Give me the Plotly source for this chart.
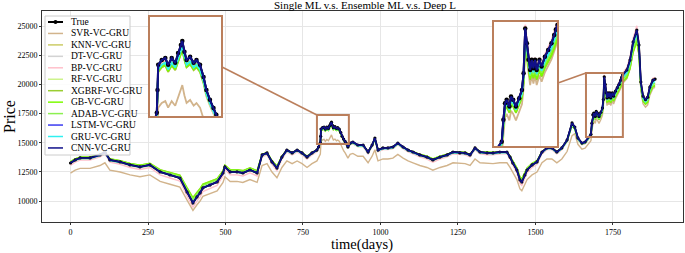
import numpy as np
import plotly.graph_objects as go

# ---------------- data ----------------
DAYS = [0, 15, 31, 63, 95, 111, 127, 160, 192, 224, 256, 289, 321, 353, 376, 395, 408, 418, 427, 450,
        473, 492, 498, 515, 537, 556, 579, 602, 618, 634, 650, 666, 682, 698, 715, 731, 747, 763, 779, 795,
        800, 806, 807, 808, 813, 818, 822, 827, 832, 836, 840, 842, 845, 848, 853, 858, 862, 867, 872, 876,
        881, 886, 890, 895, 902, 911, 927, 944, 960, 973, 982, 992, 1008, 1024, 1040, 1056, 1073, 1089, 1105, 1127,
        1150, 1169, 1192, 1215, 1234, 1256, 1273, 1289, 1305, 1321, 1344, 1363, 1385, 1408, 1418, 1427, 1440, 1450, 1456, 1466,
        1473, 1489, 1505, 1521, 1537, 1553, 1569, 1585, 1602, 1618, 1627, 1637, 1650, 1660, 1679, 1682, 1685, 1688, 1693, 1696,
        1700, 1705, 1711, 1716, 1719, 1722, 1725, 1728, 1731, 1734, 1737, 1740, 1743, 1748, 1752, 1758, 1764, 1770, 1775, 1778,
        1781, 1795, 1805, 1815, 1827, 1834, 1840, 1847, 1855, 1862, 1869, 1879, 1886]

TRUE_PRICE = [13260, 13520, 13690, 13690, 13950, 14200, 13520, 13350, 13090, 12920, 13090, 12490, 12230, 11970, 10770, 9830, 10350, 10690, 11120, 11370,
              11630, 12400, 12920, 12490, 12490, 12400, 12660, 12400, 13950, 14120, 13350, 12830, 13770, 14370, 14120, 14370, 14120, 13770, 14120, 14370,
              14630, 14990, 15550, 16170, 16290, 16340, 16170, 16340, 16220, 16460, 16660, 16760, 16490, 16290, 16370, 16220, 16290, 16170, 15870, 15550,
              15310, 15110, 14940, 14630, 14970, 15060, 14800, 14800, 14200, 14800, 15400, 14370, 14550, 14550, 14630, 14970, 14630, 14370, 14200, 13950,
              13770, 13520, 13770, 13950, 14200, 14120, 14120, 13950, 14550, 14200, 14120, 14120, 14200, 14200, 13770, 13260, 12660, 11800, 11630, 12230,
              12660, 13090, 13350, 14200, 14550, 14550, 14200, 14550, 15230, 16690, 16340, 15400, 14970, 15060, 15720, 16670, 17390, 17540, 17250, 17680,
              17540, 17250, 17610, 17970, 18700, 20650, 20000, 19280, 18840, 19280, 18910, 19280, 18840, 19280, 18990, 19420, 19710, 20000, 20360, 20600,
              20800, 21230, 22090, 23630, 24660, 23370, 20200, 19000, 18700, 18900, 19770, 20370, 20450]

MODEL_NAMES = ["SVR-VC-GRU", "KNN-VC-GRU", "DT-VC-GRU", "BP-VC-GRU", "RF-VC-GRU", "XGBRF-VC-GRU",
               "GB-VC-GRU", "ADAB-VC-GRU", "LSTM-VC-GRU", "GRU-VC-GRU", "CNN-VC-GRU"]
# relative level of each model's prediction vs. the true price (before / after day 1620)
MODEL_RATIO_EARLY = [0.935, 0.992, 1.000, 0.990, 1.000, 1.000, 1.000, 1.000, 1.000, 0.995, 1.000]
MODEL_RATIO_LATE = [0.965, 0.992, 1.000, 0.990, 1.000, 1.000, 1.000, 1.000, 1.000, 0.995, 1.000]
# how strongly each model's prediction is pulled towards a mid price level
MODEL_PULL = [0.0, 0.03, 0.0, -0.06, 0.07, 0.10, 0.09, 0.06, 0.01, 0.02, 0.0]
MID_LEVEL = 14500

X_TICKS = [0, 250, 500, 750, 1000, 1250, 1500, 1750]
Y_TICKS = [10000, 12500, 15000, 17500, 20000, 22500, 25000]

# ---------------- styles ----------------
MODEL_COLORS = ["#d2b48c", "#cccc66", "#d3d3d3", "#ffc0cb", "#cdf38c", "#9acd32",
                "#7cfc00", "#8cf050", "#3b3bf0", "#30f0f0", "#10108a"]
BORDER = "#bb7f5c"
FONT = "Liberation Serif"

W, H = 685, 253
PL, PR, PT, PB = 42, 683, 11, 222
XMIN, XMAX = -92, 1976
YMIN, YMAX = 8200, 26290

INSETS = [
    dict(px=(149, 222), py=(16, 117), xr=(795, 898), yr=(14887, 17373), link=(222, 67)),
    dict(px=(493, 558), py=(21, 147), xr=(1663, 1782), yr=(15487, 20972), link=(558, 83)),
]


def pxx(px):
    return (px - PL) / (PR - PL)


def pyy(py):
    return (PB - py) / (PB - PT)


def dxx(d):
    return (d - XMIN) / (XMAX - XMIN)


def dyy(v):
    return (v - YMIN) / (YMAX - YMIN)


days = np.array(DAYS, dtype=float)
true = np.array(TRUE_PRICE, dtype=float)
preds = []
for i, name in enumerate(MODEL_NAMES):
    ratio = np.where(days < 1620, MODEL_RATIO_EARLY[i], MODEL_RATIO_LATE[i])
    preds.append(true * ratio + MODEL_PULL[i] * (MID_LEVEL - true))

fig = go.Figure()

# (xaxis, yaxis, model line width, true line width, marker size)
axes_sets = [("x", "y", 1.4, 1.8, 3.2)]
for k in range(len(INSETS)):
    axes_sets.append((f"x{k + 2}", f"y{k + 2}", 1.8, 2.0, 4.5))

for xa, ya, lw, tlw, ms in axes_sets:
    for i, name in enumerate(MODEL_NAMES[:-1]):
        fig.add_trace(go.Scatter(x=days, y=preds[i], mode="lines", name=name,
                                 line=dict(color=MODEL_COLORS[i], width=lw),
                                 xaxis=xa, yaxis=ya, showlegend=False, hoverinfo="skip"))
    fig.add_trace(go.Scatter(x=days, y=true, mode="lines+markers", name="True",
                             line=dict(color="black", width=tlw),
                             marker=dict(color="black", size=ms),
                             xaxis=xa, yaxis=ya, showlegend=False, hoverinfo="skip"))
    fig.add_trace(go.Scatter(x=days, y=preds[-1], mode="lines", name=MODEL_NAMES[-1],
                             line=dict(color=MODEL_COLORS[-1], width=lw + 0.2),
                             xaxis=xa, yaxis=ya, showlegend=False, hoverinfo="skip"))

axis_common = dict(showline=True, linecolor="#333333", linewidth=1, mirror=True,
                   zeroline=False, tickfont=dict(size=8, family=FONT, color="black"),
                   ticks="outside", ticklen=2, tickcolor="#333333", automargin=False,
                   showgrid=True, gridcolor="#e6e6e6", gridwidth=1, tickformat="d")

layout = dict(
    width=W, height=H,
    margin=dict(l=PL, r=W - PR, t=PT, b=H - PB, autoexpand=False),
    plot_bgcolor="white", paper_bgcolor="white",
    font=dict(family=FONT, color="black"),
    title=dict(text="Single ML v.s. Ensemble ML v.s. Deep L", x=365 / W, xref="container",
               xanchor="center", y=1 - 5 / H, yref="container", yanchor="middle",
               font=dict(size=11, family=FONT)),
    xaxis=dict(domain=[0, 1], range=[XMIN, XMAX], tickvals=X_TICKS, anchor="y", **axis_common),
    yaxis=dict(domain=[0, 1], range=[YMIN, YMAX], tickvals=Y_TICKS, anchor="x", **axis_common),
    showlegend=False,
)

shapes = []
annotations = [
    dict(text="time(days)", xref="paper", yref="paper", x=pxx(362), y=pyy(244.5),
         xanchor="center", yanchor="middle", showarrow=False,
         font=dict(size=14.5, family=FONT, color="black")),
    dict(text="Price", xref="paper", yref="paper", x=pxx(9), y=pyy(117), textangle=-90,
         xanchor="center", yanchor="middle", showarrow=False,
         font=dict(size=16, family=FONT, color="black")),
]

for k, ins in enumerate(INSETS):
    n = k + 2
    x0, x1 = pxx(ins["px"][0]), pxx(ins["px"][1])
    y0, y1 = pyy(ins["py"][1]), pyy(ins["py"][0])
    layout[f"xaxis{n}"] = dict(domain=[x0, x1], range=list(ins["xr"]), anchor=f"y{n}",
                               showticklabels=False, ticks="", zeroline=False, showline=False,
                               showgrid=(k == 1), tickvals=[1750], gridcolor="#e6e6e6")
    layout[f"yaxis{n}"] = dict(domain=[y0, y1], range=list(ins["yr"]), anchor=f"x{n}",
                               showticklabels=False, ticks="", zeroline=False, showline=False,
                               showgrid=False)
    shapes.append(dict(type="rect", xref="paper", yref="paper", x0=x0, x1=x1, y0=y0, y1=y1,
                       fillcolor="white", line=dict(width=0), layer="between"))
    shapes.append(dict(type="rect", xref="paper", yref="paper", x0=x0, x1=x1, y0=y0, y1=y1,
                       line=dict(color=BORDER, width=2), layer="above"))
    shapes.append(dict(type="rect", xref="x", yref="y", x0=ins["xr"][0], x1=ins["xr"][1],
                       y0=ins["yr"][0], y1=ins["yr"][1], line=dict(color=BORDER, width=2), layer="above"))
    cpx, cpy = ins["link"]
    shapes.append(dict(type="line", xref="paper", yref="paper", x0=pxx(cpx), y0=pyy(cpy),
                       x1=dxx(ins["xr"][0]), y1=dyy(ins["yr"][1]),
                       line=dict(color=BORDER, width=1.6), layer="above"))

# legend drawn by hand (matplotlib-like)
LEG_L, LEG_R, LEG_T, LEG_B = 45, 130, 16, 155
shapes.append(dict(type="rect", xref="paper", yref="paper", x0=pxx(LEG_L), x1=pxx(LEG_R),
                   y0=pyy(LEG_B), y1=pyy(LEG_T), fillcolor="rgba(255,255,255,0.85)",
                   line=dict(color="#cccccc", width=1), layer="above"))
labels = ["True"] + MODEL_NAMES
colors = ["black"] + MODEL_COLORS
for i, (lab, col) in enumerate(zip(labels, colors)):
    py = 22 + i * 11.45
    shapes.append(dict(type="line", xref="paper", yref="paper", x0=pxx(48), x1=pxx(63),
                       y0=pyy(py), y1=pyy(py), line=dict(color=col, width=2 if i == 0 else 1.5),
                       layer="above"))
    if i == 0:
        shapes.append(dict(type="circle", xref="paper", yref="paper", x0=pxx(53.5), x1=pxx(57.5),
                           y0=pyy(py + 2), y1=pyy(py - 2), fillcolor="black", line=dict(width=0),
                           layer="above"))
    annotations.append(dict(text=lab, xref="paper", yref="paper", x=pxx(69), y=pyy(py),
                            xanchor="left", yanchor="middle", showarrow=False,
                            font=dict(size=9.5, family=FONT, color="black")))

layout["shapes"] = shapes
layout["annotations"] = annotations
fig.update_layout(**layout)

fig.write_html("out.html", post_script="document.body.style.margin='0';",
               config={"displayModeBar": False})
